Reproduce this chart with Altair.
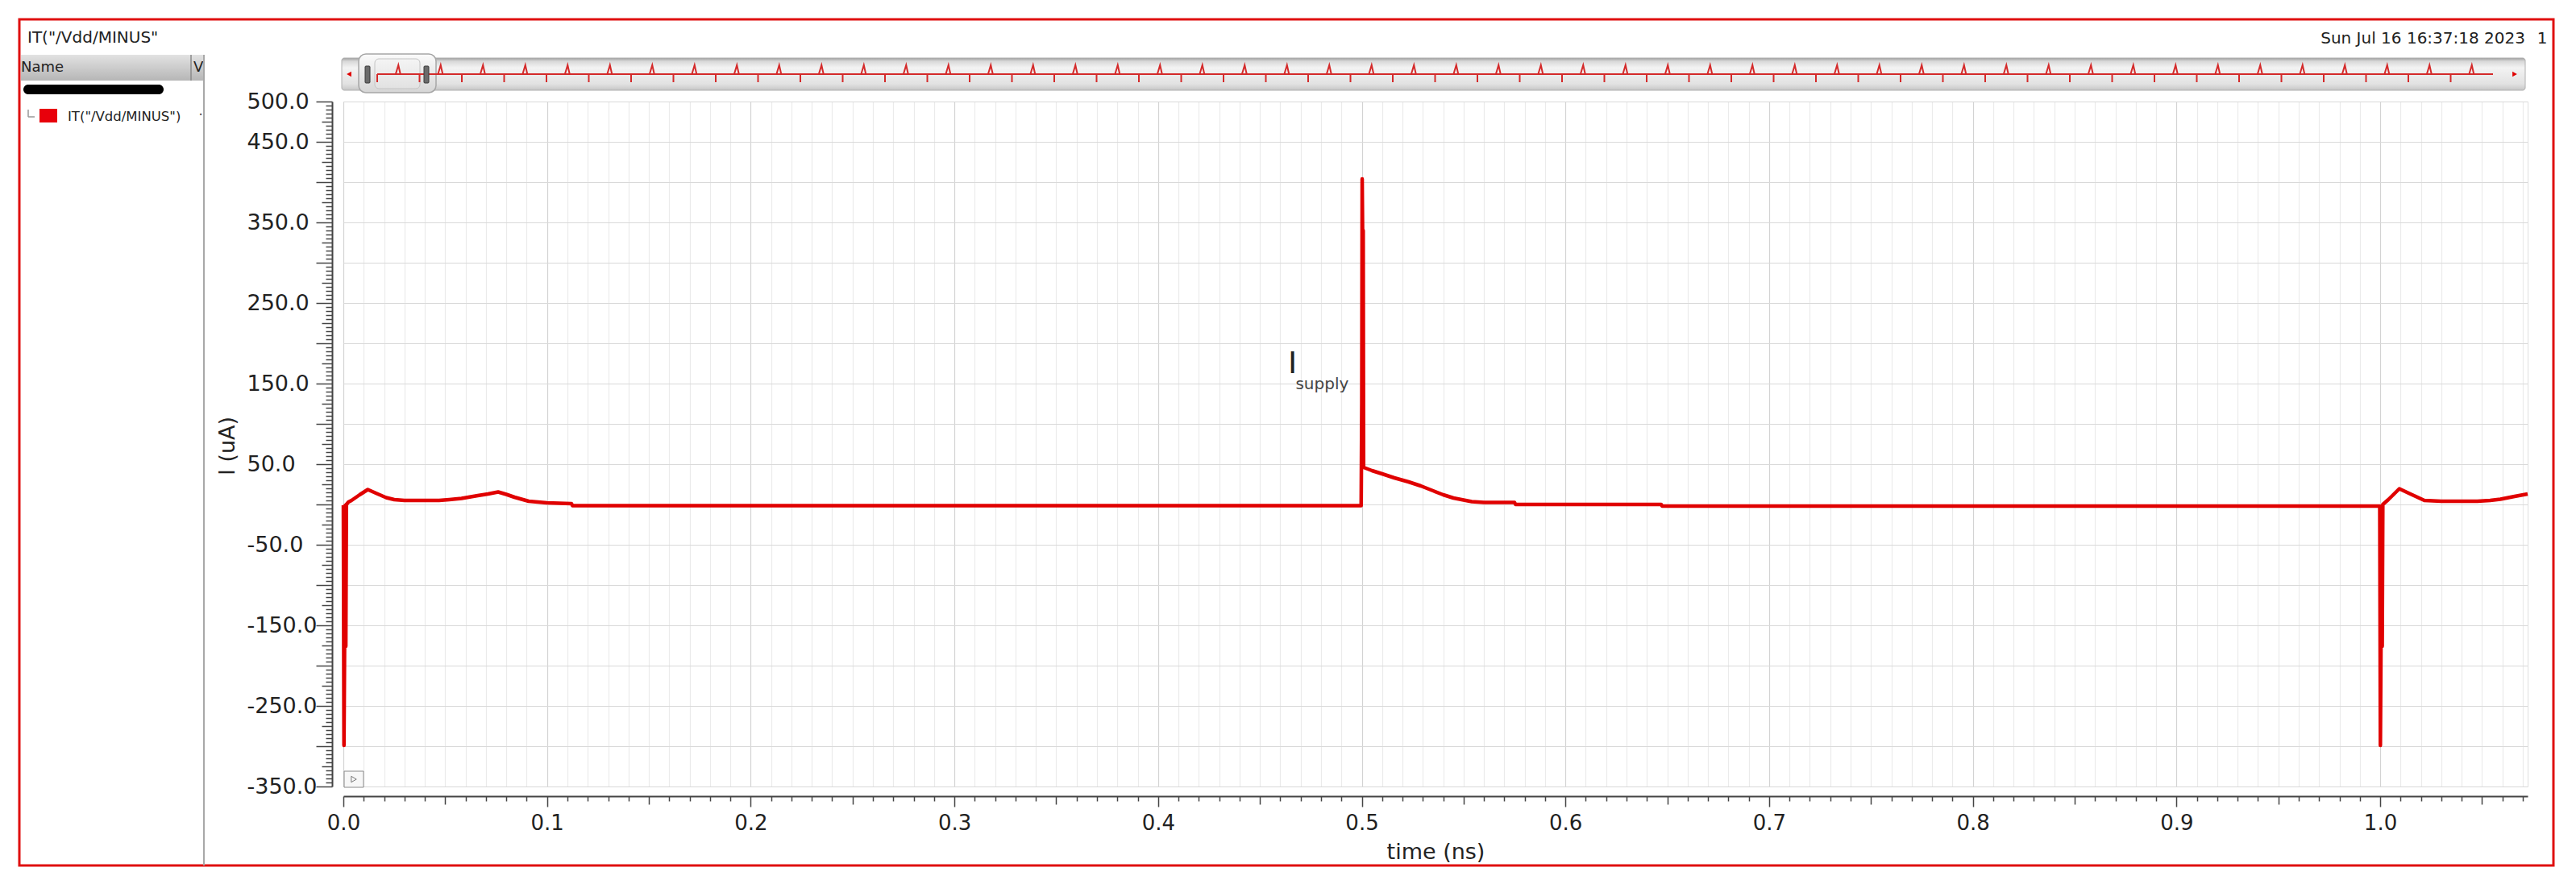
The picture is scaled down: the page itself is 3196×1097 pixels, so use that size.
import altair as alt
import pandas as pd

# ---------------- values ----------------
time_ns = [0.0, 0.0003, 0.0006, 0.0009, 0.0012, 0.0015, 0.0025, 0.004, 0.008, 0.012,
           0.016, 0.021, 0.025, 0.030, 0.047, 0.052, 0.058, 0.066, 0.071, 0.076,
           0.080, 0.084, 0.091, 0.100, 0.1120, 0.1125, 0.4997, 0.5000, 0.5002, 0.5004,
           0.5005, 0.5007, 0.5009, 0.505, 0.510, 0.516, 0.523, 0.529, 0.535, 0.540,
           0.545, 0.549, 0.554, 0.560, 0.575, 0.5755, 0.647, 0.6475, 0.9998, 1.0001,
           1.0004, 1.0007, 1.0010, 1.0013, 1.004, 1.0094, 1.014, 1.0217, 1.030, 1.0477,
           1.054, 1.059, 1.066, 1.0724]
current_uA = [-1, -299, -176, -1, -176, 0, 3, 5, 12, 18.5,
              14, 8.5, 6, 5, 5, 6, 7.5, 11, 13, 15.5,
              12.5, 9, 4, 2, 1, -1.5, -1.5, 126, 404, 340,
              126, 340, 46, 42, 38, 33, 28, 23, 17, 12,
              8, 6, 3.5, 2.5, 2.5, 0, 0, -2, -2, -299,
              -176, -2, -176, 0, 6, 19.5, 14, 5, 4, 4,
              5, 6.5, 10, 13]
assert len(time_ns) == len(current_uA)

x_domain_ns = [0.0, 1.0724]
y_domain_uA = [-350, 500]
x_label_values = [0.0, 0.1, 0.2, 0.3, 0.4, 0.5, 0.6, 0.7, 0.8, 0.9, 1.0]
y_label_values = [500, 450, 350, 250, 150, 50, -50, -150, -250, -350]

annot_text = ["I", "supply"]
annot_t_ns = [0.466, 0.4675]
annot_uA = [174, 149]

# overview strip (scroll bar) of the whole 50 ns run
overview_span_ns = [0.0, 50.0]
overview_rise_ns = [0.5, 1.5, 2.5, 3.5, 4.5, 5.5, 6.5, 7.5, 8.5, 9.5,
                    10.5, 11.5, 12.5, 13.5, 14.5, 15.5, 16.5, 17.5, 18.5, 19.5,
                    20.5, 21.5, 22.5, 23.5, 24.5, 25.5, 26.5, 27.5, 28.5, 29.5,
                    30.5, 31.5, 32.5, 33.5, 34.5, 35.5, 36.5, 37.5, 38.5, 39.5,
                    40.5, 41.5, 42.5, 43.5, 44.5, 45.5, 46.5, 47.5, 48.5, 49.5]
overview_fall_ns = [0, 1, 2, 3, 4, 5, 6, 7, 8, 9,
                    10, 11, 12, 13, 14, 15, 16, 17, 18, 19,
                    20, 21, 22, 23, 24, 25, 26, 27, 28, 29,
                    30, 31, 32, 33, 34, 35, 36, 37, 38, 39,
                    40, 41, 42, 43, 44, 45, 46, 47, 48, 49]

title_text = 'IT("/Vdd/MINUS"'
legend_text = 'IT("/Vdd/MINUS")'
date_text = "Sun Jul 16 16:37:18 2023"
page_no = "1"

# ---------------- layout ----------------
W, H = 2710, 850
RED = "#e00000"
FONT = "DejaVu Sans"
one = alt.Data(values=[{"k": 0}])


def rect(x, x2, y, y2, **mk):
    return alt.Chart(one).mark_rect(**mk).encode(
        x=alt.value(x), x2=alt.value(x2), y=alt.value(y), y2=alt.value(y2))


def rule(x, x2, y, y2, **mk):
    return alt.Chart(one).mark_rule(**mk).encode(
        x=alt.value(x), x2=alt.value(x2), y=alt.value(y), y2=alt.value(y2))


def text(s, x, y, **mk):
    return alt.Chart(one).mark_text(text=s, **mk).encode(x=alt.value(x), y=alt.value(y))


def point(x, y, **mk):
    return alt.Chart(one).mark_point(**mk).encode(x=alt.value(x), y=alt.value(y))


def vgrad(stops):
    return {"gradient": "linear", "x1": 0, "y1": 0, "x2": 0, "y2": 1,
            "stops": [{"offset": o, "color": c} for o, c in stops]}


# ---------------- main trace ----------------
df = pd.DataFrame({"t": time_ns, "i": current_uA})
xscale = alt.Scale(domain=x_domain_ns, nice=False, zero=False)
yscale = alt.Scale(domain=y_domain_uA, nice=False, zero=False)

x_major = "abs(datum.value*10 - round(datum.value*10)) < 1e-6"
x_half = "abs(datum.value*20 - round(datum.value*20)) < 1e-6"
x_lbl = ("indexof([" + ",".join(str(round(v * 100)) for v in x_label_values) +
         "], round(datum.value*100)) >= 0 ? format(datum.value, '.1f') : ''")
y_lbl = ("indexof([" + ",".join(str(v) for v in y_label_values) +
         "], datum.value) >= 0 ? (datum.value < 0 ? '-' : '') + format(abs(datum.value), '.1f') : ''")

x_axis = alt.Axis(
    title="time (ns)", orient="bottom", offset=12, tickCount=107, grid=True,
    gridColor={"condition": {"test": x_major, "value": "#d3d3d3"}, "value": "#ebebeb"},
    gridWidth=1.2,
    tickSize={"condition": [{"test": x_major, "value": 13}, {"test": x_half, "value": 10}], "value": 6},
    tickColor="#444", tickWidth=1.5, domainColor="#444", domainWidth=2,
    labelExpr=x_lbl, labelPadding=7, labelFont=FONT, labelFontSize=26, labelColor="#222",
    labelOverlap=False, labelFlush=False, labelBound=False,
    titleFont=FONT, titleFontSize=27, titleFontWeight="normal", titleColor="#222",
    titleX=1355, titleY=69, titleBaseline="middle", titleAlign="center")

y_axis = alt.Axis(
    title="I (uA)", orient="left", offset=14, tickCount=170, grid=True,
    gridColor={"condition": {"test": "datum.value % 50 == 0", "value": "#d9d9d9"},
               "value": "rgba(0,0,0,0)"},
    gridWidth=1.2,
    tickSize={"condition": [{"test": "datum.value % 50 == 0", "value": 20},
                            {"test": "datum.value % 25 == 0", "value": 13}], "value": 8},
    tickColor="#444", tickWidth=1.5, domainColor="#444", domainWidth=2,
    labelExpr=y_lbl, labelAlign="left", labelPadding=86, labelFont=FONT, labelFontSize=27,
    labelColor="#222", labelOverlap=False, labelFlush=False, labelBound=False,
    titleFont=FONT, titleFontSize=27, titleFontWeight="normal", titleColor="#222",
    titleX=-130, titleY=427, titleAngle=270, titleBaseline="middle", titleAlign="center")

main = alt.Chart(df).mark_line(color=RED, strokeWidth=4.5, strokeJoin="round").encode(
    x=alt.X("t:Q", scale=xscale, axis=x_axis),
    y=alt.Y("i:Q", scale=yscale, axis=y_axis),
)

ann_df = pd.DataFrame({"t": annot_t_ns, "v": annot_uA, "s": annot_text})
ann_I = alt.Chart(ann_df.iloc[[0]]).mark_text(
    font=FONT, fontSize=38, align="center", baseline="middle", color="#222").encode(
    x=alt.X("t:Q", scale=xscale, axis=None), y=alt.Y("v:Q", scale=yscale, axis=None), text="s:N")
ann_sub = alt.Chart(ann_df.iloc[[1]]).mark_text(
    font=FONT, fontSize=20, align="left", baseline="middle", color="#444").encode(
    x=alt.X("t:Q", scale=xscale, axis=None), y=alt.Y("v:Q", scale=yscale, axis=None), text="s:N")

# ---------------- overview strip ----------------
ov_scale = alt.Scale(domain=overview_span_ns, range=[42, 2667], nice=False, zero=False)
OVC = "#d42a2a"
ov_base = alt.Chart(pd.DataFrame({"a": [overview_span_ns[0]], "b": [overview_span_ns[1]]})).mark_rule(
    color=OVC, strokeWidth=2).encode(
    x=alt.X("a:Q", scale=ov_scale, axis=None), x2="b:Q", y=alt.value(-34))
ov_rise = alt.Chart(pd.DataFrame({"t": overview_rise_ns})).mark_point(
    shape="M-0.6,1L0,-1L0.45,1", filled=False, size=130, stroke=OVC, strokeWidth=2, opacity=1).encode(
    x=alt.X("t:Q", scale=ov_scale, axis=None), y=alt.value(-39.5))
ov_fall = alt.Chart(pd.DataFrame({"t": overview_fall_ns})).mark_rule(
    color=OVC, strokeWidth=2).encode(
    x=alt.X("t:Q", scale=ov_scale, axis=None), y=alt.value(-34), y2=alt.value(-24))

# ---------------- window decorations ----------------
deco_back = [
    rect(-402, 2742, -102, 948, filled=False, stroke="#e01010", strokeWidth=3),
    text(title_text, -392, -79, font=FONT, fontSize=20, align="left", baseline="middle", color="#222"),
    text(date_text, 2707, -78, font=FONT, fontSize=20, align="right", baseline="middle", color="#222"),
    text(page_no, 2728, -78, font=FONT, fontSize=20, align="center", baseline="middle", color="#222"),
    rect(-400, -173, -58, -26, fill=vgrad([(0, "#e2e2e2"), (1, "#b6b6b6")])),
    rule(-189, -189, -58, -26, color="#8a8a8a", strokeWidth=1.5),
    text("Name", -400, -42, font=FONT, fontSize=18, align="left", baseline="middle", color="#222"),
    text("V", -186, -42, font=FONT, fontSize=18, align="left", baseline="middle", color="#222"),
    rect(-397, -223, -21, -9, fill="#000000", cornerRadius=6),
    rule(-391, -391, 10, 19, color="#999999", strokeWidth=1.5),
    rule(-391, -383, 19, 19, color="#999999", strokeWidth=1.5),
    rect(-377, -355, 9, 26, fill="#e8000b"),
    text(legend_text, -342, 19, font=FONT, fontSize=16.5, align="left", baseline="middle", color="#222"),
    text("\u00b7", -177, 17, font=FONT, fontSize=18, align="center", baseline="middle", color="#555"),
    rule(-173, -173, -58, 948, color="#a8a8a8", strokeWidth=2),
]

deco_front = [
    rect(-2, 2707, -54, -14, fill=vgrad([(0, "#9e9e9e"), (0.1, "#d8d8d8"), (0.3, "#f3f3f3"),
                                          (0.8, "#e2e2e2"), (1, "#c6c6c6")]),
         stroke="#b0b0b0", strokeWidth=1, cornerRadius=3),
    rect(19, 115, -59, -11, fill=vgrad([(0, "#fbfbfb"), (1, "#d6d6d6")]),
         stroke="#a6a6a6", strokeWidth=1.5, cornerRadius=9),
    rect(39, 95, -53, -16, fill=vgrad([(0, "#f4f4f4"), (1, "#e2e2e2")]),
         stroke="#c4c4c4", strokeWidth=1, cornerRadius=5),
]
deco_top = [
    rect(27, 33, -44, -23, fill="#6b6b6b", stroke="#3a3a3a", strokeWidth=1, cornerRadius=1),
    rect(100, 106, -44, -23, fill="#6b6b6b", stroke="#3a3a3a", strokeWidth=1, cornerRadius=1),
    point(7, -34, shape="triangle-left", filled=True, size=45, color="#e00000", opacity=1),
    point(2694, -34, shape="triangle-right", filled=True, size=45, color="#e00000", opacity=1),
    rect(1, 25, 831, 851, fill="#f7f7f7", stroke="#8a8a8a", strokeWidth=1),
    point(13, 841, shape="triangle-right", filled=False, size=55, stroke="#777777", strokeWidth=1, opacity=1),
]

chart = alt.layer(
    *deco_back, main, ann_I, ann_sub, *deco_front, ov_base, ov_fall, ov_rise, *deco_top
).resolve_scale(x="independent", y="independent").properties(
    width=W, height=H,
    autosize=alt.AutoSizeParams(type="none"),
    padding={"left": 418, "top": 118, "right": 40, "bottom": 103},
    background="white",
).configure_view(stroke="#e0e0e0")

chart.save("out.html", embed_options={"renderer": "svg", "actions": False})
